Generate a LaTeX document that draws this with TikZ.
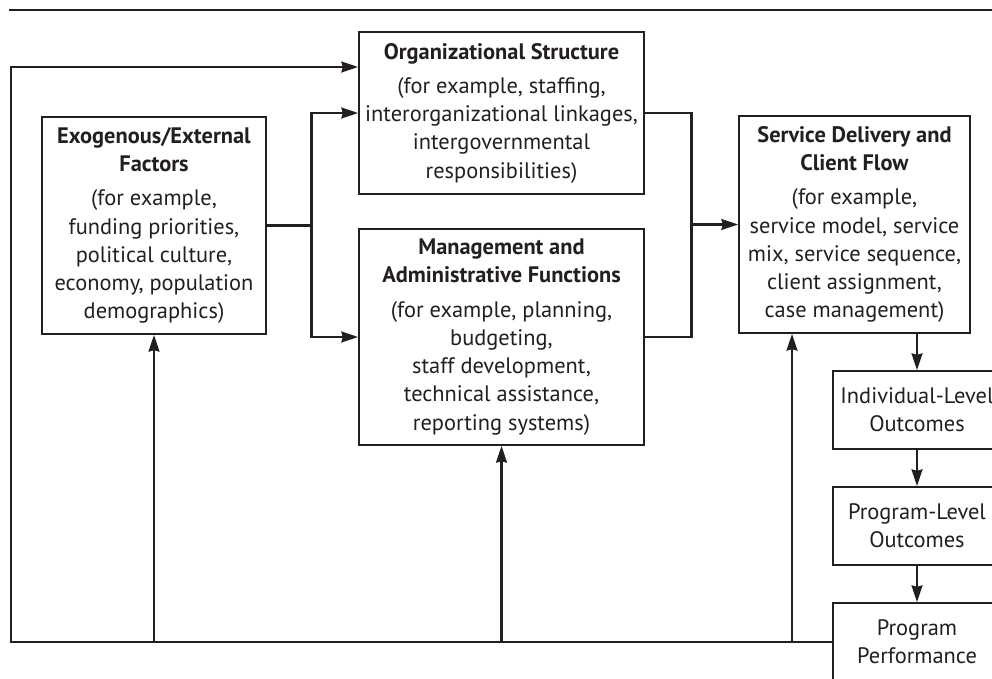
\documentclass[tikz,border=0pt]{standalone}
\usepackage{fontspec}
\setmainfont{PT Sans}
\usetikzlibrary{arrows.meta}
\definecolor{ink}{HTML}{231F20}
\tikzset{
  box/.style={draw=ink, line width=1.2pt, inner sep=0pt, align=center, text=ink,
    font=\fontsize{16.8pt}{21.2pt}\selectfont},
  conn/.style={draw=ink, line width=2.2pt},
  arr/.style={conn, -{Stealth[length=12.5pt,width=8pt,inset=1pt]}}
}
\begin{document}
\begin{tikzpicture}[x=0.75pt,y=-0.75pt]
\useasboundingbox (0,0) rectangle (992,678);
\fill[white] (0,0) rectangle (992,678);
\clip (0,0) rectangle (992,678);
\draw[ink, line width=1.3pt] (9,10) -- (992,10);

\node[box, minimum width=168pt, minimum height=162.75pt] (exo) at (154,225.5)
  {\textbf{Exogenous/External}\\\textbf{Factors}\\[4.5pt](for example,\\funding priorities,\\political culture,\\economy, population\\demographics)};
\node[box, minimum width=213.75pt, minimum height=121.5pt] (org) at (501.5,113)
  {\textbf{Organizational Structure}\\[4.5pt](for example, staffing,\\interorganizational linkages,\\intergovernmental\\responsibilities)};
\node[box, minimum width=213.75pt, minimum height=162pt] (mgmt) at (501.5,337)
  {\textbf{Management and}\\\textbf{Administrative Functions}\\[4.5pt](for example, planning,\\budgeting,\\staff development,\\technical assistance,\\reporting systems)};
\node[box, minimum width=173.25pt, minimum height=162.75pt] (serv) at (854.5,224.5)
  {\textbf{Service Delivery and}\\\textbf{Client Flow}\\[4.5pt](for example,\\service model, service\\mix, service sequence,\\client assignment,\\case management)};
\node[box, minimum width=126pt, minimum height=58.5pt] (ind) at (917,410)
  {Individual-Level\\Outcomes};
\node[box, minimum width=126pt, minimum height=58.5pt] (prog) at (917,526)
  {Program-Level\\Outcomes};
\node[box, minimum width=126pt, minimum height=58.5pt] (perf) at (917,642)
  {Program\\Performance};

\coordinate (fb) at (11,642);
\coordinate (top) at (11,67);
\coordinate (su) at (792,0);

% exogenous to org and mgmt
\draw[conn] (exo.east) -- ++(45,0) coordinate (j1);
\draw[arr] (j1) |- (org.west);
\draw[arr] (j1) |- (mgmt.west);

% org and mgmt to service
\draw[conn] (org.east) -- ++(47,0) coordinate (j2) -- (j2 |- mgmt.east) -- (mgmt.east);
\draw[arr] (j2 |- serv.west) -- (serv.west);

% chain down
\draw[arr] (serv.south -| ind.north) -- (ind.north);
\draw[arr] (ind.south) -- (prog.north);
\draw[arr] (prog.south) -- (perf.north);

% feedback
\draw[arr] (perf.west) -- (fb) -- (top) -- (org.west |- top);
\draw[arr] (exo.south |- fb) -- (exo.south);
\draw[arr] (mgmt.south |- fb) -- (mgmt.south);
\draw[arr] (su |- fb) -- (su |- serv.south);
\end{tikzpicture}
\end{document}
